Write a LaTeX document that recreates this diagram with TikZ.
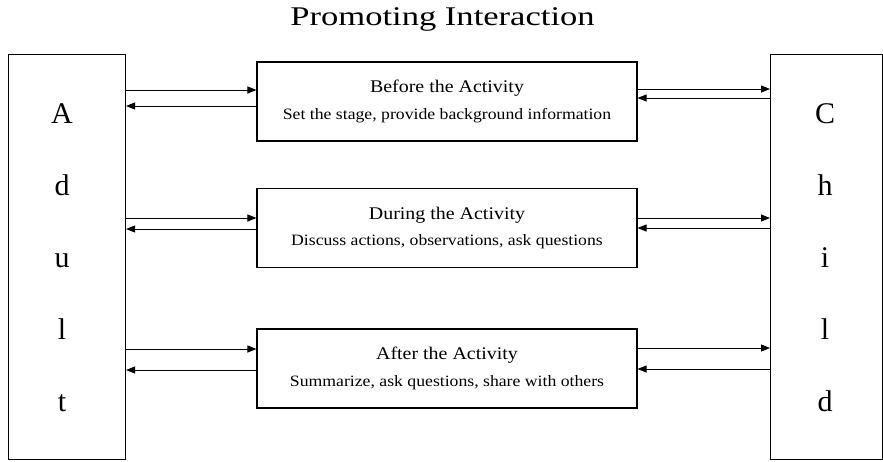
\documentclass[tikz,border=0pt]{standalone}
\usepackage{fontspec}
\setmainfont{Liberation Serif}
\newfontfamily\headfont[FakeStretch=1.28]{Liberation Serif}
\newfontfamily\stagefont[FakeStretch=1.12]{Liberation Serif}
\usetikzlibrary{arrows.meta}
\begin{document}
\begin{tikzpicture}[x=1pt,y=-1pt,
  frame/.style={draw, line width=1.1pt, inner sep=0pt, anchor=north west},
  stagebox/.style={draw, line width=1.1pt, minimum width=380pt, minimum height=79pt,
    inner sep=0pt, align=center, font=\stagefont\fontsize{15.8}{26.5}\selectfont},
  letter/.style={anchor=base, font=\fontsize{30}{30}\selectfont},
  arr/.style={line width=0.9pt, -{Triangle[length=9pt,width=7pt]}},
]
\useasboundingbox (0,0) rectangle (883,461);

% heading
\node[anchor=base, font=\headfont\fontsize{27}{28}\selectfont] (title) at (442.5,25) {Promoting Interaction};

% the two partners
\node[frame, minimum width=117pt, minimum height=405pt] (adult) at (8,54) {};
\node[frame, minimum width=112pt, minimum height=405pt] (child) at (770,54) {};

\foreach \ch [count=\i from 0] in {A,d,u,l,t}
  \node[letter] (a\i) at (62,123+72*\i) {\ch};
\foreach \ch [count=\i from 0] in {C,h,i,l,d}
  \node[letter] (c\i) at (825,123+72*\i) {\ch};

% the three stages
\newcommand\stagetitle[1]{{\fontsize{17.8}{26.5}\selectfont #1}}
\node[stagebox] (before) at (447,101.5)
  {\stagetitle{Before the Activity}\\
   Set the stage, provide background information};
\node[stagebox] (during) at (447,228)
  {\stagetitle{During the Activity}\\
   Discuss actions, observations, ask questions};
\node[stagebox] (after) at (447,368.5)
  {\stagetitle{After the Activity}\\
   Summarize, ask questions, share with others};

% exchanges between adult, stage and child
\draw[arr] (adult.east |- 0,90)  -- (before.west |- 0,90);
\draw[arr] (before.west |- 0,106) -- (adult.east |- 0,106);
\draw[arr] (before.east |- 0,89)  -- (child.west |- 0,89);
\draw[arr] (child.west |- 0,98)   -- (before.east |- 0,98);

\draw[arr] (adult.east |- 0,218)  -- (during.west |- 0,218);
\draw[arr] (during.west |- 0,229) -- (adult.east |- 0,229);
\draw[arr] (during.east |- 0,218) -- (child.west |- 0,218);
\draw[arr] (child.west |- 0,228)  -- (during.east |- 0,228);

\draw[arr] (adult.east |- 0,349)  -- (after.west |- 0,349);
\draw[arr] (after.west |- 0,370)  -- (adult.east |- 0,370);
\draw[arr] (after.east |- 0,348)  -- (child.west |- 0,348);
\draw[arr] (child.west |- 0,369)  -- (after.east |- 0,369);
\end{tikzpicture}
\end{document}
